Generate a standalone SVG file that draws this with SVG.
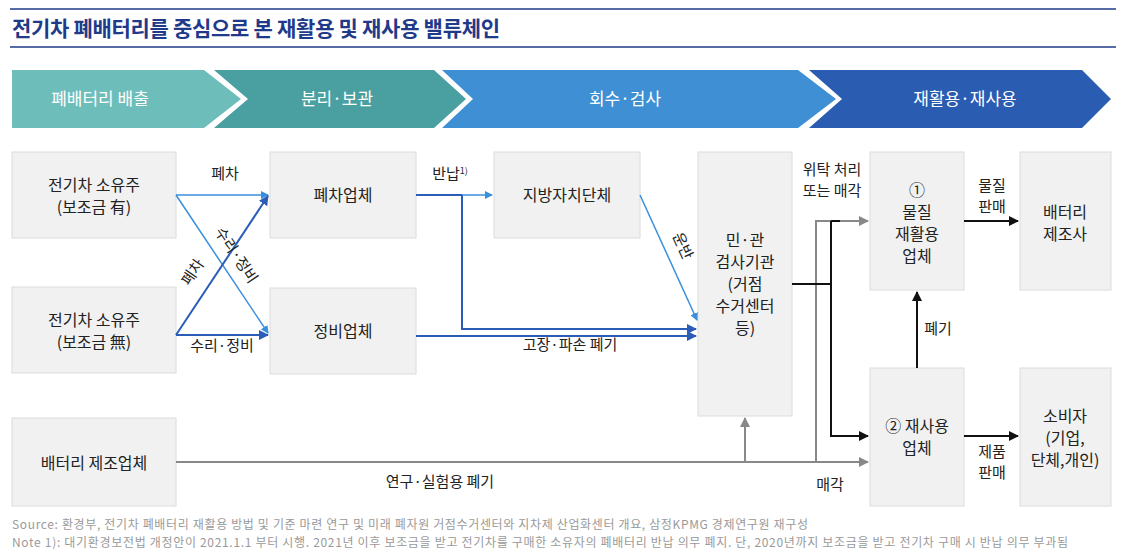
<svg xmlns="http://www.w3.org/2000/svg" width="1131" height="555" viewBox="0 0 1131 555">
<style>
text{font-family:"Noto Sans CJK KR","Noto Sans",sans-serif;}
.box{fill:#f1f1f1;stroke:#dcdcdc;stroke-width:1;}
.t{font-size:16px;fill:#222;text-anchor:middle;}
.l{font-size:15px;fill:#222;text-anchor:middle;}
.h{font-size:17px;fill:#fff;text-anchor:middle;}
.lb{stroke:#3a8fdc;stroke-width:1.5;fill:none;}
.db{stroke:#2a5cb8;stroke-width:2;fill:none;}
.bk{stroke:#111;stroke-width:2;fill:none;}
.gr{stroke:#888;stroke-width:2;fill:none;}
.f{font-size:12px;fill:#9a9a9a;}
</style>
<defs>
<marker id="alb" markerWidth="8" markerHeight="8" refX="7" refY="4" orient="auto" markerUnits="userSpaceOnUse"><path d="M0,0L8,4L0,8z" fill="#3a8fdc"/></marker>
<marker id="adb" markerWidth="10" markerHeight="10" refX="9" refY="5" orient="auto" markerUnits="userSpaceOnUse"><path d="M0,0L10,5L0,10z" fill="#2a5cb8"/></marker>
<marker id="abk" markerWidth="10" markerHeight="10" refX="9" refY="5" orient="auto" markerUnits="userSpaceOnUse"><path d="M0,0L10,5L0,10z" fill="#111"/></marker>
<marker id="agr" markerWidth="10" markerHeight="10" refX="9" refY="5" orient="auto" markerUnits="userSpaceOnUse"><path d="M0,0L10,5L0,10z" fill="#888"/></marker>
</defs>
<rect width="1131" height="555" fill="#fff"/>
<g id="title">
<line x1="10" y1="9" x2="1116" y2="9" stroke="#1f3a8a" stroke-width="1.5"/>
<text x="12" y="36" font-size="21" font-weight="bold" fill="#1f3a8a" textLength="488">전기차 폐배터리를 중심으로 본 재활용 및 재사용 밸류체인</text>
<line x1="10" y1="47" x2="1116" y2="47" stroke="#1f3a8a" stroke-width="1.5"/>
</g>
<g id="stages">
<polygon points="12,70 204,70 241,99 204,128 12,128" fill="#6dbdbb"/>
<polygon points="214,70 434,70 466,99 434,128 214,128 248,99" fill="#4a9fa0"/>
<polygon points="442,70 798,70 836,99 798,128 442,128 473,99" fill="#3f8fd4"/>
<polygon points="809,70 1082,70 1111,99 1082,128 809,128 842,99" fill="#2a5cb2"/>
<text class="h" x="100" y="105">폐배터리 배출</text>
<text class="h" x="337" y="105">분리·보관</text>
<text class="h" x="625" y="105">회수·검사</text>
<text class="h" x="965" y="105">재활용·재사용</text>
</g>
<g id="n1"><rect class="box" x="12" y="152" width="164" height="86"/><text class="t" x="94" y="191">전기차 소유주</text><text class="t" x="94" y="213">(보조금 有)</text></g>
<g id="n2"><rect class="box" x="12" y="287" width="164" height="86"/><text class="t" x="94" y="326">전기차 소유주</text><text class="t" x="94" y="348">(보조금 無)</text></g>
<g id="n3"><rect class="box" x="12" y="418" width="164" height="88"/><text class="t" x="94" y="469">배터리 제조업체</text></g>
<g id="n4"><rect class="box" x="270" y="152" width="146" height="86"/><text class="t" x="343" y="201">폐차업체</text></g>
<g id="n5"><rect class="box" x="270" y="288" width="146" height="86"/><text class="t" x="343" y="337">정비업체</text></g>
<g id="n6"><rect class="box" x="494" y="152" width="146" height="86"/><text class="t" x="567" y="201">지방자치단체</text></g>
<g id="n7"><rect class="box" x="698" y="152" width="94" height="264"/>
<text class="t" x="745" y="246">민·관</text><text class="t" x="745" y="268">검사기관</text><text class="t" x="745" y="290">(거점</text><text class="t" x="745" y="312">수거센터</text><text class="t" x="745" y="334">등)</text></g>
<g id="n8"><rect class="box" x="870" y="152" width="94" height="138"/>
<text class="t" x="917" y="196">①</text><text class="t" x="917" y="218">물질</text><text class="t" x="917" y="240">재활용</text><text class="t" x="917" y="262">업체</text></g>
<g id="n9"><rect class="box" x="1020" y="152" width="91" height="138"/><text class="t" x="1065" y="218">배터리</text><text class="t" x="1065" y="240">제조사</text></g>
<g id="n10"><rect class="box" x="870" y="368" width="94" height="138"/><text class="t" x="917" y="432">② 재사용</text><text class="t" x="917" y="454">업체</text></g>
<g id="n11"><rect class="box" x="1020" y="368" width="91" height="138"/><text class="t" x="1065" y="422">소비자</text><text class="t" x="1065" y="444">(기업,</text><text class="t" x="1065" y="466">단체,개인)</text></g>
<g id="connectors">
<line class="lb" x1="176" y1="195" x2="268" y2="195" marker-end="url(#alb)"/>
<line class="lb" x1="176" y1="195" x2="268" y2="333" marker-end="url(#alb)"/>
<line class="db" x1="176" y1="335" x2="268" y2="196" marker-end="url(#adb)"/>
<line class="db" x1="176" y1="335" x2="268" y2="335" marker-end="url(#adb)"/>
<polyline class="db" points="416,195 462,195"/>
<line class="lb" x1="462" y1="195" x2="492" y2="195" marker-end="url(#alb)"/>
<polyline class="db" points="462,195 462,329 696,329" marker-end="url(#adb)"/>
<line class="db" x1="416" y1="336" x2="696" y2="336" marker-end="url(#adb)"/>
<line class="lb" x1="640" y1="195" x2="697" y2="320" marker-end="url(#alb)"/>
<line class="gr" x1="176" y1="462" x2="868" y2="462" marker-end="url(#agr)"/>
<line class="gr" x1="745" y1="462" x2="745" y2="418" marker-end="url(#agr)"/>
<polyline class="gr" points="816,462 816,221 868,221" marker-end="url(#agr)"/>
<line class="bk" x1="792" y1="284" x2="831" y2="284"/>
<polyline class="bk" points="831,221 831,436 868,436" marker-end="url(#abk)"/>
<line class="bk" x1="831" y1="221" x2="840" y2="221"/>
<line class="bk" x1="917" y1="368" x2="917" y2="292" marker-end="url(#abk)"/>
<line class="bk" x1="964" y1="221" x2="1018" y2="221" marker-end="url(#abk)"/>
<line class="bk" x1="964" y1="436" x2="1018" y2="436" marker-end="url(#abk)"/>
</g>
<g id="labels">
<text class="l" x="225" y="179">폐차</text>
<text class="l" x="222" y="351">수리·정비</text>
<text class="l" transform="translate(232,258) rotate(56)">수리·정비</text>
<text class="l" transform="translate(197,275) rotate(-56)">폐차</text>
<text class="l" x="450" y="179">반납<tspan font-size="9" dy="-5">1)</tspan></text>
<text class="l" x="570" y="350">고장·파손 폐기</text>
<text class="l" transform="translate(678,248) rotate(65)">운반</text>
<text class="l" x="440" y="487">연구·실험용 폐기</text>
<text class="l" x="830" y="490">매각</text>
<text class="l" x="832" y="175">위탁 처리</text>
<text class="l" x="832" y="196">또는 매각</text>
<text class="l" x="938" y="334">폐기</text>
<text class="l" x="992" y="191">물질</text>
<text class="l" x="992" y="212">판매</text>
<text class="l" x="992" y="457">제품</text>
<text class="l" x="992" y="478">판매</text>
</g>
<g id="footer">
<text class="f" x="12" y="529" textLength="796">Source: 환경부, 전기차 폐배터리 재활용 방법 및 기준 마련 연구 및 미래 폐자원 거점수거센터와 지차제 산업화센터 개요, 삼정KPMG 경제연구원 재구성</text>
<text class="f" x="12" y="547" textLength="1056">Note 1): 대기환경보전법 개정안이 2021.1.1 부터 시행. 2021년 이후 보조금을 받고 전기차를 구매한 소유자의 폐배터리 반납 의무 폐지. 단, 2020년까지 보조금을 받고 전기차 구매 시 반납 의무 부과됨</text>
</g>
</svg>
